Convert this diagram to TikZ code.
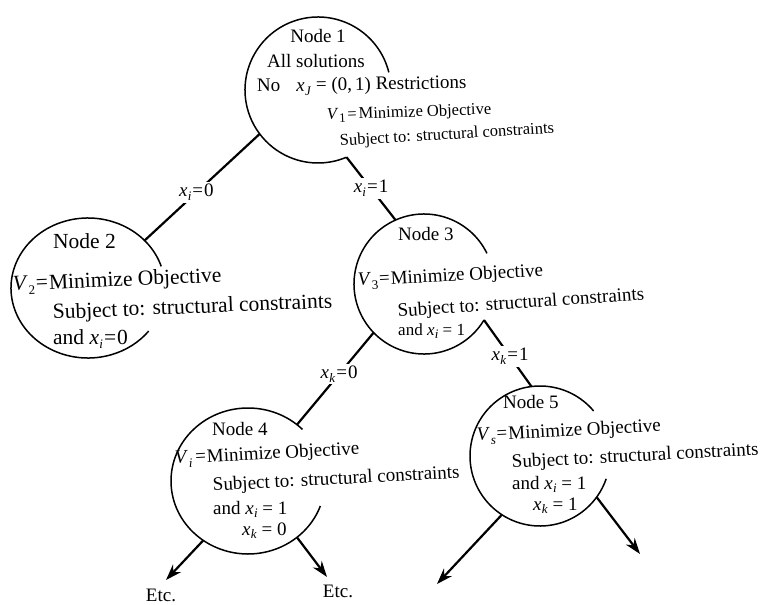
\documentclass[tikz,border=0pt]{standalone}
\usepackage{fontspec}
\setmainfont{Liberation Serif}
\usetikzlibrary{arrows.meta,shapes.geometric}
% italic letter with a lowered subscript
\newcommand{\vsub}[2]{\textit{#1}\kern0.3pt\raisebox{-0.45ex}{\fontsize{13}{13}\selectfont #2}}
\newcommand{\bodyfont}{\fontsize{19}{23}\selectfont}
\newcommand{\bigbody}{\fontsize{21.5}{25}\selectfont}
\newcommand{\smallbody}{\fontsize{17}{20}\selectfont}
\newcommand{\topbody}{\fontsize{16.5}{20}\selectfont}
\begin{document}
\begin{tikzpicture}[x=1pt,y=-1pt,
  bubble/.style={ellipse,draw=none,inner sep=0pt,outer sep=0pt},
  rim/.style={line width=1.5pt},
  branch/.style={line width=2.2pt},
  cut/.style={fill=white,inner sep=2pt,font=\bodyfont},
  txt/.style={anchor=base west,inner sep=0pt,font=\bodyfont},
  pointer/.style={branch,-{Stealth[length=16pt,width=11pt]}}]
\useasboundingbox (0,0) rectangle (767,604);

% the five subproblem bubbles
\node[bubble,minimum width=146pt,minimum height=146pt] (n1) at (318,90) {};
\node[bubble,minimum width=154pt,minimum height=140pt] (n2) at (88,288) {};
\node[bubble,minimum width=140pt,minimum height=140pt] (n3) at (424,284) {};
\node[bubble,minimum width=154pt,minimum height=146pt] (n4) at (248,481) {};
\node[bubble,minimum width=140pt,minimum height=140pt] (n5) at (540,456) {};

% outlines, left open where the text runs out
\draw[rim] (n1.center) ++(-14:73) arc[start angle=-14,end angle=-293,radius=73];
\draw[rim] (n2.center) ++(-18:77 and 70) arc[start angle=-18,end angle=-322,x radius=77,y radius=70];
\draw[rim] (n3.center) ++(-26:70) arc[start angle=-26,end angle=-329,radius=70];
\draw[rim] (n4.center) ++(-45:77 and 73) arc[start angle=-45,end angle=-340,x radius=77,y radius=73];
\draw[rim] (n5.center) ++(-40:70) arc[start angle=-40,end angle=-341,radius=70];

% branches
\draw[branch] (n1.217) -- node[cut,pos=.55] {\vsub{x}{\textit{i}}\kern1pt=\kern1pt0} (n2.40);
\draw[branch] (n1.293) -- node[cut,pos=.5] {\vsub{x}{\textit{i}}\kern1pt=\kern1pt1} (n3.114);
\draw[branch] (n3.224) -- node[cut,pos=.45] {\vsub{x}{\textit{k}}\kern1pt=\kern1pt0} (n4.49);
\draw[branch] (n3.329) -- node[cut,pos=.55] {\vsub{x}{\textit{k}}\kern1pt=\kern1pt1} (n5.97);

% further branching
\node[font=\bodyfont,inner sep=0pt] (etc1) at (161,595) {Etc.};
\node[font=\bodyfont,inner sep=0pt] (etc2) at (338,591) {Etc.};
\coordinate (tipA) at (166,580);
\coordinate (tipB) at (327,577);
\coordinate (tipC) at (437,584);
\coordinate (tipD) at (640,554);
\draw[pointer] (n4.233) -- (tipA);
\draw[pointer] (n4.311) -- (tipB);
\draw[pointer] (n5.237) -- (tipC);
\draw[pointer] (n5.324) -- (tipD);

% node 1
\node[txt,anchor=base] (a1) at (318,43) {Node 1};
\node[txt,anchor=base] (a2) at (316,68) {All solutions};
\node[txt,rotate=1] (a3) at (257,92) {No\hspace{16pt}\vsub{x}{\textit{J}}\ = (0,\kern3pt1)\ Restrictions};
\node[txt,font=\topbody,rotate=2] (a4) at (327,120) {\vsub{V}{1}\kern2pt=\kern2pt Minimize Objective};
\node[txt,font=\topbody,rotate=3.5] (a5) at (340,146) {Subject to: structural constraints};

% node 2
\node[txt,font=\bigbody] (b1) at (53,248) {Node 2};
\node[txt,font=\bigbody,rotate=2.5] (b2) at (13,291) {\vsub{V}{2}\kern1pt=\kern1pt Minimize Objective};
\node[txt,font=\bigbody,rotate=2.3] (b3) at (53,319) {Subject to: structural constraints};
\node[txt,font=\bigbody] (b4) at (53,344) {and \vsub{x}{\textit{i}}\kern1pt=\kern1pt0};

% node 3
\node[txt] (c1) at (398,240) {Node 3};
\node[txt,rotate=3] (c2) at (358,286) {\vsub{V}{3}\kern1pt=\kern1pt Minimize Objective};
\node[txt,rotate=4] (c3) at (398,317) {Subject to: structural constraints};
\node[txt,font=\smallbody] (c4) at (398,335) {and \vsub{x}{\textit{i}} = 1};

% node 4
\node[txt] (d1) at (212,435) {Node 4};
\node[txt,rotate=3] (d2) at (175,464) {\vsub{V}{\textit{i}}\kern3pt=\kern1pt Minimize Objective};
\node[txt,rotate=3] (d3) at (213,491) {Subject to: structural constraints};
\node[txt] (d4) at (213,514) {and \vsub{x}{\textit{i}} = 1};
\node[txt] (d5) at (242,535) {\vsub{x}{\textit{k}} = 0};

% node 5
\node[txt] (e1) at (503,408) {Node 5};
\node[txt,rotate=3] (e2) at (477,441) {\vsub{V}{\textit{s}}\kern1pt=\kern1pt Minimize Objective};
\node[txt,rotate=3] (e3) at (512,468) {Subject to: structural constraints};
\node[txt] (e4) at (512,489) {and \vsub{x}{\textit{i}} = 1};
\node[txt] (e5) at (533,510) {\vsub{x}{\textit{k}} = 1};
\end{tikzpicture}
\end{document}
